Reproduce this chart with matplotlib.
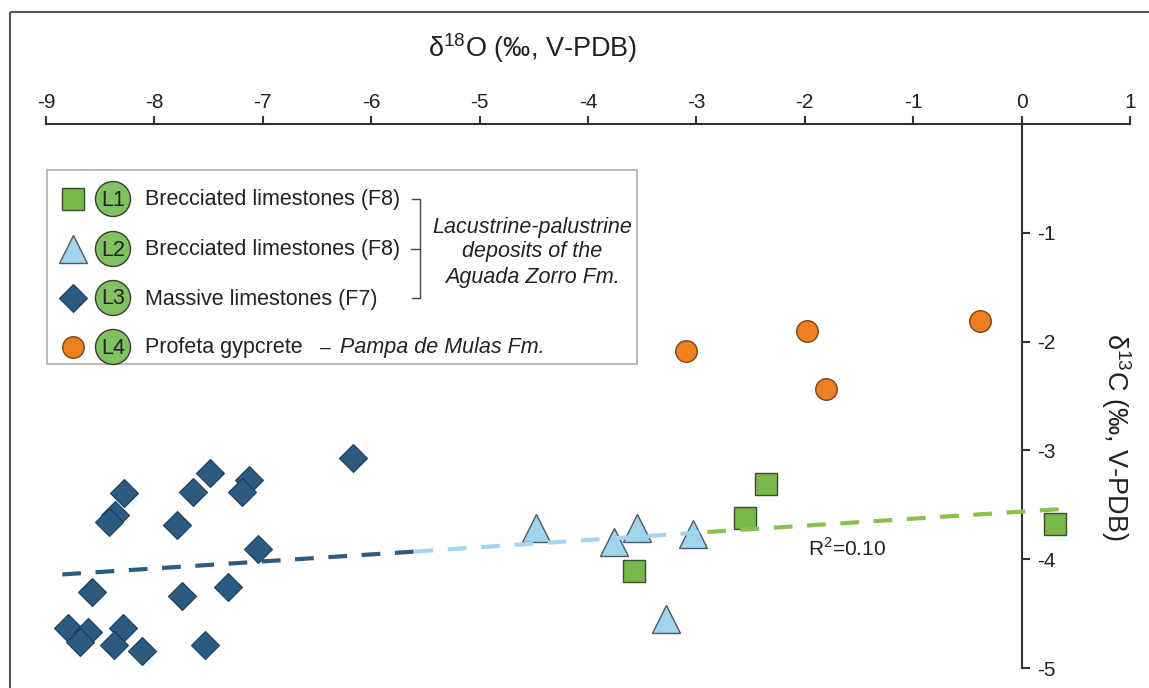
import matplotlib as mpl
mpl.use('Agg')
import matplotlib.pyplot as plt
from matplotlib.patches import Rectangle, Circle

plt.rcParams['font.family'] = ['Liberation Sans', 'DejaVu Sans']
plt.rcParams['mathtext.fontset'] = 'custom'
plt.rcParams['mathtext.rm'] = 'Liberation Sans'
plt.rcParams['axes.unicode_minus'] = False

# L1 brecciated limestones (F8) - squares
l1_x = [-3.58, -2.55, -2.36, 0.31]
l1_y = [-4.11, -3.62, -3.31, -3.68]

# L2 brecciated limestones (F8) - triangles
l2_x = [-4.48, -3.76, -3.55, -3.03, -3.28]
l2_y = [-3.71, -3.84, -3.71, -3.77, -4.55]

# L3 massive limestones (F7) - diamonds
l3_x = [-6.17, -8.28, -8.36, -8.42, -7.49, -7.64, -7.13, -7.19, -7.79, -7.04,
        -8.58, -7.75, -7.32, -8.80, -8.61, -8.69, -8.29, -8.37, -8.11, -7.53]
l3_y = [-3.07, -3.39, -3.59, -3.66, -3.21, -3.38, -3.27, -3.38, -3.69, -3.91,
        -4.30, -4.34, -4.26, -4.63, -4.67, -4.76, -4.63, -4.79, -4.84, -4.79]

# L4 Profeta gypcrete - circles
l4_x = [-3.10, -1.98, -1.80, -0.38]
l4_y = [-2.09, -1.90, -2.44, -1.81]

# trend line (R2 = 0.10), split in three coloured pieces
trend_x = [-8.85, -5.6, -2.9, 0.35]
trend_y = [-4.14, -3.93, -3.75, -3.54]
trend_colors = ['#2e5b80', '#a3d6ee', '#8cc04e']

c_sq = '#78b84a'
c_tri = '#9fd4ec'
c_dia = '#2d5a80'
c_circ = '#f07f22'
ink = '#333333'

fig = plt.figure(figsize=(11.49, 6.88), dpi=100)
ax = fig.add_axes([46/1149, 20/688, 1084/1149, 544/688])
ax.set_xlim(-9, 1)
ax.set_ylim(-5, 0)

# crossing axes: top spine at y=0, right spine moved to x=0
ax.spines['left'].set_visible(False)
ax.spines['bottom'].set_visible(False)
ax.spines['right'].set_position(('data', 0))
ax.spines['right'].set_bounds(-5, 0)
for s in ['top', 'right']:
    ax.spines[s].set_linewidth(1.5)
    ax.spines[s].set_color(ink)

ax.xaxis.tick_top()
ax.yaxis.tick_right()
ax.set_xticks(range(-9, 2))
ax.set_yticks([-5, -4, -3, -2, -1])
ax.tick_params(axis='x', direction='out', length=5.5, width=1.5, color=ink,
               labelsize=15, pad=3, labelcolor='#222')
ax.tick_params(axis='y', direction='out', length=5.5, width=1.5, color=ink,
               labelsize=15, pad=5.5, labelcolor='#222')
ax.patch.set_alpha(0)

ax.plot(l3_x, l3_y, 'D', ms=14, mfc=c_dia, mec='#1e3d57', mew=0.8, ls='none', clip_on=False, zorder=2)
ax.plot(l2_x, l2_y, '^', ms=20, mfc=c_tri, mec='#4a5a66', mew=1, ls='none', clip_on=False, zorder=2)
ax.plot(l1_x, l1_y, 's', ms=16, mfc=c_sq, mec='#3c4a30', mew=1, ls='none', clip_on=False, zorder=2)
ax.plot(l4_x, l4_y, 'o', ms=15.5, mfc=c_circ, mec='#7a4318', mew=1, ls='none', clip_on=False, zorder=2)

for i in range(3):
    ax.plot(trend_x[i:i+2], trend_y[i:i+2], color=trend_colors[i], lw=3,
            dashes=(4.5, 3.5), solid_capstyle='butt', zorder=3, clip_on=False)

ax.text(-1.97, -3.90, 'R$^2$=0.10', fontsize=15, ha='left', va='center', color='#222')

# axis titles
fig.text(533/1149, 1 - 48/688, r'δ$^{18}$O (‰, V-PDB)', ha='center', va='center', fontsize=19.5, color='#222')
fig.text(1116/1149, 1 - 437/688, r'δ$^{13}$C (‰, V-PDB)', ha='center', va='center',
         fontsize=19.5, rotation=-90, color='#222')

# overlay in pixel units for the legend box and outer frame
lg = fig.add_axes([0, 0, 1, 1])
lg.set_xlim(0, 1149)
lg.set_ylim(688, 0)
lg.axis('off')

lg.add_patch(Rectangle((9.5, 11.5), 1200, 700, fill=False, lw=1.5, ec='#555', clip_on=False))
lg.add_patch(Rectangle((47, 170), 590, 194, fill=False, lw=1.2, ec='#b0b0b0'))

rows = [199, 249, 298, 347]
badge_labels = ['L1', 'L2', 'L3', 'L4']
row_texts = ['Brecciated limestones (F8)', 'Brecciated limestones (F8)',
             'Massive limestones (F7)', 'Profeta gypcrete']
lg.plot(73, rows[0], 's', ms=16, mfc=c_sq, mec='#3c4a30', mew=1)
lg.plot(73, rows[1], '^', ms=20, mfc=c_tri, mec='#4a5a66', mew=1)
lg.plot(73, rows[2], 'D', ms=14, mfc=c_dia, mec='#1e3d57', mew=0.8)
lg.plot(73, rows[3], 'o', ms=15.5, mfc=c_circ, mec='#7a4318', mew=1)

for y, b, t in zip(rows, badge_labels, row_texts):
    lg.add_patch(Circle((113, y), 17.5, fc='#80c160', ec='#3a3a3a', lw=1))
    lg.text(113, y + 1, b, ha='center', va='center', fontsize=15.5, color='#222')
    lg.text(145, y + 1, t, ha='left', va='center', fontsize=15.5, color='#222')

# bracket grouping L1-L3
lg.plot([412, 420, 420, 412], [rows[0], rows[0], rows[2], rows[2]], color='#444', lw=1)
lg.plot([411, 420], [rows[1], rows[1]], color='#444', lw=1)
for y, t in zip([227, 252, 277], ['Lacustrine-palustrine', 'deposits of the', 'Aguada Zorro Fm.']):
    lg.text(532, y, t, ha='center', va='center', fontsize=15.5, style='italic', color='#222')

lg.text(325, rows[3] + 1, '–', ha='center', va='center', fontsize=14, color='#222')
lg.text(340, rows[3] + 1, 'Pampa de Mulas Fm.', ha='left', va='center', fontsize=15.5,
        style='italic', color='#222')

fig.savefig('out.png', dpi=100)
